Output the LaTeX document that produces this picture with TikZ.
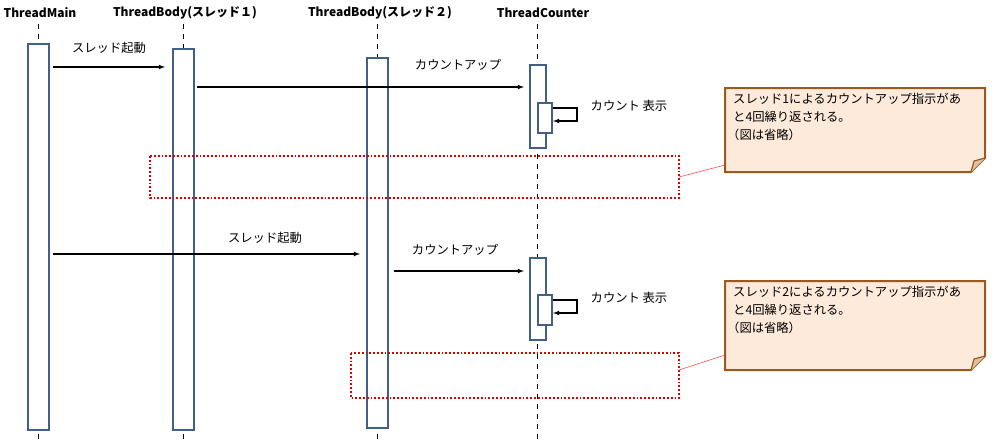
\documentclass[tikz,border=0pt]{standalone}
\usepackage{fontspec}
\setmainfont{Noto Sans CJK JP}
\begin{document}
\begin{tikzpicture}[x=1pt,y=-1pt,
 life/.style={line width=1pt, dash pattern=on 5pt off 5pt},
 msg/.style={-latex, line width=1.1pt},
 lbl/.style={font=\fontsize{12.3}{14}\selectfont, inner sep=0},
 hdr/.style={font=\fontsize{12}{14}\selectfont\bfseries, inner sep=0},
 grp/.style={draw=red!85!black, line width=1.8pt, dotted},
 notebox/.style={draw=notec, line width=2pt, fill=notef},
 note/.style={align=left, font=\fontsize{12.3}{18}\selectfont, anchor=north west, inner sep=0}]
\definecolor{actc}{RGB}{65,95,135}
\definecolor{notec}{RGB}{152,90,30}
\definecolor{notef}{RGB}{253,234,218}
\tikzset{act/.style={draw=actc, line width=2pt, fill=white, inner sep=0}}
\useasboundingbox (0,0) rectangle (995,440);
% headers
\node[hdr] (h1) at (40,13) {ThreadMain};
\node[hdr] (h2) at (185,13) {ThreadBody(スレッド１)};
\node[hdr] (h3) at (380,13) {ThreadBody(スレッド２)};
\node[hdr] (h4) at (543,13) {ThreadCounter};
% lifelines
\draw[life] (38,24) -- (38,440);
\draw[life] (183,24) -- (183,440);
\draw[life] (377,24) -- (377,440);
\draw[life] (537,24) -- (537,440);
% activations
\node[act, minimum width=21pt, minimum height=386pt] (a1) at (38.5,237) {};
\node[act, minimum width=21pt, minimum height=381pt] (a2) at (183.5,239.5) {};
\node[act, minimum width=21pt, minimum height=370pt] (a3) at (377,243) {};
\node[act, minimum width=16pt, minimum height=83pt] (c1) at (537.5,106.5) {};
\node[act, minimum width=14pt, minimum height=30pt] (c1s) at (545,118) {};
\node[act, minimum width=16pt, minimum height=82pt] (c2) at (537.5,299) {};
\node[act, minimum width=14pt, minimum height=30pt] (c2s) at (545,310) {};
% messages
\coordinate (m1s) at (53,67); \coordinate (m1e) at (165,67);
\draw[msg] (m1s) -- (m1e);
\node[lbl] (l1) at (109,48) {スレッド起動};
\coordinate (m2s) at (197,87); \coordinate (m2e) at (524,87);
\draw[msg] (m2s) -- (m2e);
\node[lbl] (l2) at (458,65) {カウントアップ};
\draw[msg] (c1s.east|-0,108) -- (577,108) -- (577,121) -- (c1s.east|-0,121);
\node[lbl] (l3) at (629,106) {カウント 表示};
\coordinate (m3s) at (53,254); \coordinate (m3e) at (360,254);
\draw[msg] (m3s) -- (m3e);
\node[lbl] (l4) at (265,238) {スレッド起動};
\coordinate (m4s) at (394,271); \coordinate (m4e) at (524,271);
\draw[msg] (m4s) -- (m4e);
\node[lbl] (l5) at (455,250) {カウントアップ};
\draw[msg] (c2s.east|-0,300) -- (577,300) -- (577,313) -- (c2s.east|-0,313);
\node[lbl] (l6) at (629,298) {カウント 表示};
% groups
\draw[grp] (150,156) rectangle (679,198);
\draw[grp] (351,353) rectangle (679,398);
% notes
\foreach \y/\h/\k in {88/84/1,281/89/2}{
 \draw[notebox] (725,\y) -- (985,\y) -- (985,\y+\h-14) -- (971,\y+\h) -- (725,\y+\h) -- cycle;
 \draw[notec, line width=1.2pt, fill=notef!70!notec] (971,\y+\h) -- (974,\y+\h-11) -- (985,\y+\h-14);
}
\node[note] (n1) at (733,93) {スレッド1によるカウントアップ指示があ\\と4回繰り返される。\\\hspace*{-6pt}（図は省略）};
\node[note] (n2) at (733,286) {スレッド2によるカウントアップ指示があ\\と4回繰り返される。\\\hspace*{-6pt}（図は省略）};
\coordinate (p1) at (725,165); \coordinate (p2) at (725,355);
\draw[red!70, line width=0.6pt] (679,177) -- (p1);
\draw[red!70, line width=0.6pt] (679,370) -- (p2);
\end{tikzpicture}
\end{document}
